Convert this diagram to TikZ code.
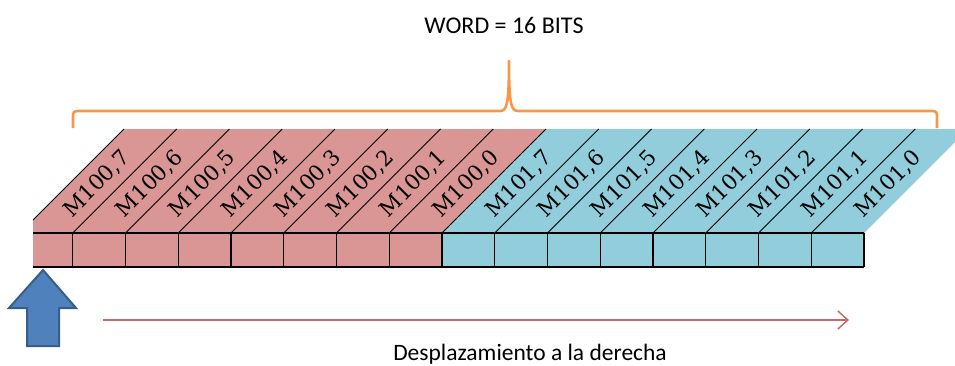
\documentclass[tikz,border=0pt]{standalone}
\usepackage{fontspec}
\setmainfont{Carlito}
\newfontfamily\bitfont{DejaVu Serif}
\usepackage{xcolor}
\usetikzlibrary{arrows.meta}
\definecolor{bytelow}{HTML}{D99694}
\definecolor{bytehigh}{HTML}{92CDDC}
\definecolor{braceorange}{HTML}{F79646}
\definecolor{arrowblue}{HTML}{4F81BD}
\definecolor{arrowedge}{HTML}{385D8A}
\definecolor{shiftred}{HTML}{C0504D}

\begin{document}
\begin{tikzpicture}[x=1pt, y=-1pt,
  bitlabel/.style={rotate=45, font=\bitfont\fontsize{21.5}{21.5}\selectfont, inner sep=0pt},
  cellline/.style={line width=1.4pt, black},
  slantline/.style={line width=0.8pt, black},
  bracepath/.style={braceorange, line width=2.6pt, line join=round}]
  \useasboundingbox (0,0) rectangle (955,365);
  % title and brace over the word
  \node[font=\fontsize{24}{24}\selectfont, anchor=base] (title) at (504,33) {WORD = 16 BITS};
  \draw[bracepath] (73,128) -- (73,119) .. controls (73,111) .. (81,111) -- (500,111)
    .. controls (507,111) and (509,104) .. (509,61)
    .. controls (509,104) and (511,111) .. (518,111) -- (929,111)
    .. controls (937,111) .. (937,119) -- (937,128);
  % cells and slanted strips, cut at the left and right edges
  \begin{scope}
    \clip (33,0) rectangle (955,365);
    \foreach \i in {0,...,15} {
      \pgfmathsetmacro{\xl}{20+52.75*\i}
      \pgfmathsetmacro{\xr}{\xl+52.75}
      \ifnum\i<8 \colorlet{bytecol}{bytelow}\else\colorlet{bytecol}{bytehigh}\fi
      \fill[bytecol] (\xl,233) -- (\xr,233) -- (\xr+104,129) -- (\xl+104,129) -- cycle;
      \fill[bytecol] (\xl,233) rectangle (\xr,267);
    }
    \foreach \i in {0,...,15} {
      \pgfmathsetmacro{\xl}{20+52.75*\i}
      \draw[slantline] (\xl,233) -- (\xl+104,129);
      \draw[cellline] (\xl+52.75,233) -- (\xl+52.75,267);
    }
    \draw[cellline] (20,233) -- (864,233) (20,267) -- (864,267);
  \end{scope}
  % bit names
  \foreach \i in {0,...,15} {
    \pgfmathsetmacro{\xl}{20+52.75*\i}
    \pgfmathtruncatemacro{\byte}{\i<8 ? 0 : 1}
    \pgfmathtruncatemacro{\bit}{mod(15-\i,8)}
    \node[bitlabel] (bit\i) at (\xl+77,184) {M10\byte,\bit};
  }
  % pointer arrow
  \draw[arrowedge, fill=arrowblue, line width=2pt, line join=miter]
    (43,270) -- (76,308) -- (59,308) -- (59,346) -- (27,346) -- (27,308) -- (9,308) -- cycle;
  % shift direction
  \coordinate (shiftstart) at (103,320);
  \coordinate (shiftend) at (849,320);
  \draw[shiftred!85, line width=1.5pt, -{Straight Barb[length=10pt,width=18pt]}] (shiftstart) -- (shiftend);
  \node[font=\fontsize{23.5}{23.5}\selectfont, anchor=base] (shiftlabel) at (530,360) {Desplazamiento a la derecha};
\end{tikzpicture}
\end{document}
